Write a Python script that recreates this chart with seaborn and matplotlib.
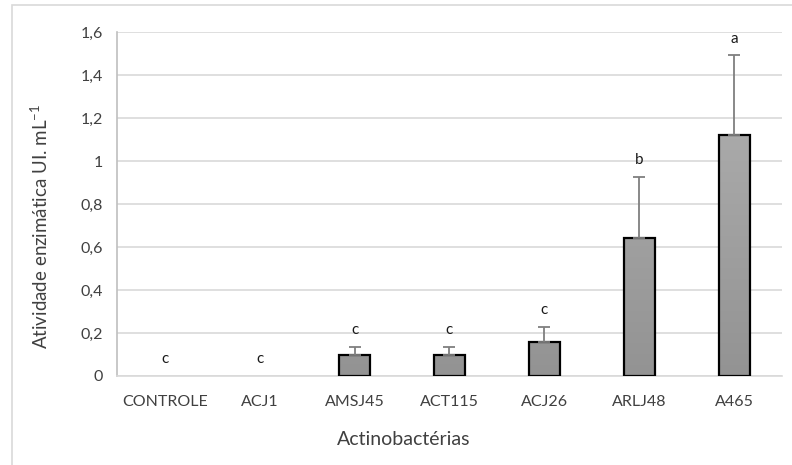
import numpy as np
import pandas as pd
import matplotlib
matplotlib.use("Agg")
import matplotlib.pyplot as plt
from matplotlib.colors import LinearSegmentedColormap
from matplotlib.patches import Rectangle
import seaborn as sns

sns.set_theme(style="white")
plt.rcParams['font.family'] = ['Lato', 'DejaVu Sans']

isolados = ['CONTROLE', 'ACJ1', 'AMSJ45', 'ACT115', 'ACJ26', 'ARLJ48', 'A465']
atividade = [0.0, 0.0, 0.10, 0.10, 0.16, 0.643, 1.12]
desvio = [0.0, 0.0, 0.036, 0.036, 0.07, 0.284, 0.372]
letras = ['c', 'c', 'c', 'c', 'c', 'b', 'a']
yticks = [0, 0.2, 0.4, 0.6, 0.8, 1.0, 1.2, 1.4, 1.6]
ytick_labels = ['0', '0,2', '0,4', '0,6', '0,8', '1', '1,2', '1,4', '1,6']

df = pd.DataFrame({'isolado': isolados, 'atividade': atividade, 'desvio': desvio})

fig = plt.figure(figsize=(7.92, 4.65), dpi=100)
ax = fig.add_axes([0.148, 0.1914, 0.839, 0.7396])

# chart frame (like the Excel chart border)
fig.patches.append(Rectangle((12 / 792, -0.01), 1.0, 1 - 5 / 465 + 0.01,
                             transform=fig.transFigure, fill=False,
                             edgecolor='#d9d9d9', linewidth=1.2, zorder=0))

sns.barplot(data=df, x='isolado', y='atividade', ax=ax, width=0.33,
            color='#9c9c9c', edgecolor='black', linewidth=1.6, zorder=3)

# vertical gradient fill clipped to each bar
cmap = LinearSegmentedColormap.from_list('g', ['#939393', '#b3b3b3'])
grad = np.linspace(0, 1, 256).reshape(-1, 1)
for p in ax.patches:
    x0 = p.get_x()
    w = p.get_width()
    h = p.get_height()
    if h <= 0:
        p.set_visible(False)
        continue
    p.set_facecolor('none')
    im = ax.imshow(grad, cmap=cmap, origin='lower', aspect='auto',
                   extent=[x0, x0 + w, 0, 1.6], zorder=2.5)
    im.set_clip_path(p)

xs = np.arange(len(isolados))
tem_erro = np.array(desvio) > 0
ax.errorbar(xs[tem_erro], np.array(atividade)[tem_erro],
            yerr=[np.zeros(tem_erro.sum()), np.array(desvio)[tem_erro]], fmt='none',
            ecolor='#7f7f7f', elinewidth=1.3, capsize=4, capthick=1.3, zorder=4)

for x, m, s, l in zip(xs, atividade, desvio, letras):
    ax.annotate(l, (x, m + s), xytext=(0, 7), textcoords='offset points',
                ha='center', va='bottom', fontsize=11, color='#1a1a1a')

ax.set_xlim(-0.5, len(isolados) - 0.5)
ax.set_ylim(0, 1.6)
ax.set_yticks(yticks)
ax.set_yticklabels(ytick_labels)
ax.yaxis.grid(True, color='#d9d9d9', linewidth=1.2, zorder=0)
ax.set_axisbelow(True)
for s in ['top', 'right']:
    ax.spines[s].set_visible(False)
ax.spines['left'].set_color('#bfbfbf')
ax.spines['bottom'].set_color('#d9d9d9')
ax.spines['left'].set_linewidth(1.2)
ax.spines['bottom'].set_linewidth(1.2)
ax.tick_params(axis='both', length=0, labelsize=11.5, colors='#404040')
ax.tick_params(axis='x', pad=14)
ax.tick_params(axis='y', pad=10)

ax.set_xlabel('Actinobactérias', fontsize=14, color='#404040')
ax.set_ylabel(r'Atividade enzimática UI. mL$^{\mathregular{-1}}$', fontsize=13.5, color='#404040')
ax.xaxis.label.set_va('center')
ax.yaxis.label.set_va('center')
ax.xaxis.set_label_coords((404 - 117) / 665, -0.186)
ax.yaxis.set_label_coords((40 - 117) / 665, (376 - 226) / 344)

fig.savefig('out.png', dpi=100)
